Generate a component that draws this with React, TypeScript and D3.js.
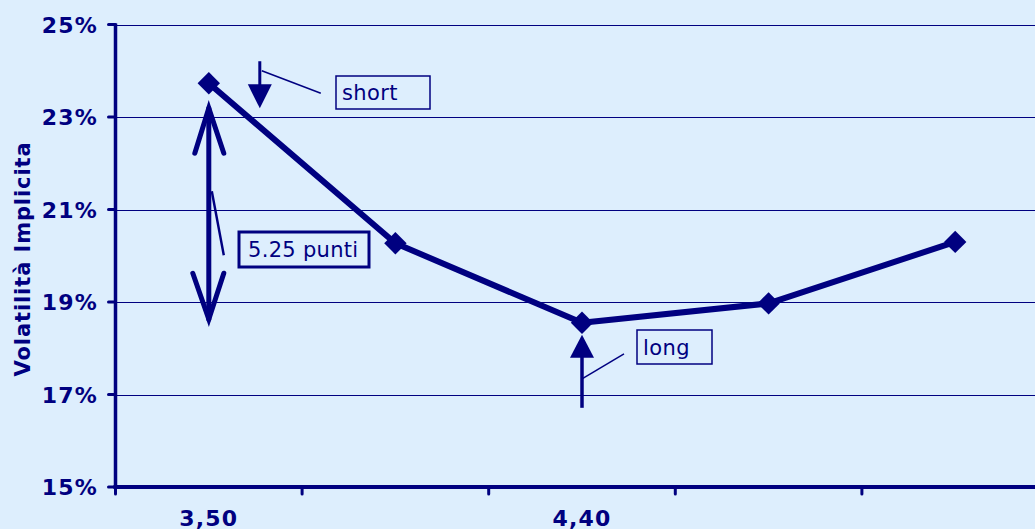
import React from 'react';
import * as d3 from 'd3';

// strike prices (only some are labelled on the axis)
const categories = ['3,50', '3,95', '4,40', '4,85', '5,30'];
const shownLabels = ['3,50', '', '4,40', '', ''];
// implied volatility, in %
const volatility = [23.73, 20.27, 18.55, 18.97, 20.3];
const yTicks = [15, 17, 19, 21, 23, 25];

const W = 1035;
const H = 529;
const NAVY = '#000080';
const BG = '#ddeefd';
const FONT = 'Verdana, "DejaVu Sans", sans-serif';

export default function App() {
  const left = 115.5;
  const top = 24.5;
  const bottom = 487;
  const x = d3.scaleBand<string>().domain(categories).range([left, left + 5 * 186.6]);
  const y = d3.scaleLinear().domain([15, 25]).range([bottom, top]);
  const cx = (i: number) => (x(categories[i]) as number) + x.bandwidth() / 2;

  const line = d3.line<number>()
    .x((d, i) => cx(i))
    .y(d => y(d));

  const diamond = d3.symbol().type(d3.symbolDiamond2 || d3.symbolSquare).size(320)();

  // annotation anchors from the data
  const p0x = cx(0), p0y = y(volatility[0]);
  const p2x = cx(2), p2y = y(volatility[2]);
  const shortX = p0x + 51;

  return (
    <svg width={W} height={H} style={{ position: 'absolute', left: 0, top: 0, background: BG }}>
      <rect x={0} y={0} width={W} height={H} fill={BG} />
      {/* gridlines */}
      {yTicks.slice(1).map(t => (
        <line key={t} x1={left} x2={W} y1={Math.round(y(t)) + 0.5} y2={Math.round(y(t)) + 0.5}
          stroke={NAVY} strokeWidth={1} />
      ))}
      {/* y axis */}
      <line x1={left} x2={left} y1={top - 1} y2={bottom + 2} stroke={NAVY} strokeWidth={3.5} />
      {yTicks.map(t => (
        <g key={t}>
          <line x1={left - 7} x2={left} y1={y(t)} y2={y(t)} stroke={NAVY} strokeWidth={3} strokeLinecap="round" />
          <text x={98} y={y(t) + 8} textAnchor="end" fill={NAVY} fontFamily={FONT}
            fontWeight="bold" fontSize={22} letterSpacing={1.2}>{t}%</text>
        </g>
      ))}
      {/* x axis */}
      <line x1={left - 2} x2={W} y1={bottom} y2={bottom} stroke={NAVY} strokeWidth={4} />
      {categories.map((c, i) => (
        <line key={c} x1={x(c) as number} x2={x(c) as number} y1={bottom} y2={bottom + 7}
          stroke={NAVY} strokeWidth={3} strokeLinecap="round" />
      ))}
      {categories.map((c, i) => (
        <text key={'l' + c} x={cx(i)} y={525.5} textAnchor="middle" fill={NAVY} fontFamily={FONT}
          fontWeight="bold" fontSize={22} letterSpacing={1.2}>{shownLabels[i]}</text>
      ))}
      {/* axis title */}
      <text transform={`translate(30,259) rotate(-90)`} textAnchor="middle" fill={NAVY}
        fontFamily={FONT} fontWeight="bold" fontSize={21} letterSpacing={0.9}>Volatilità Implicita</text>

      {/* series */}
      <path d={line(volatility) || ''} fill="none" stroke={NAVY} strokeWidth={6} strokeLinejoin="round" />
      {volatility.map((v, i) => (
        <path key={i} d={diamond || ''} transform={`translate(${cx(i)},${y(v)})`} fill={NAVY} />
      ))}

      {/* short arrow + label */}
      <line x1={shortX} x2={shortX} y1={p0y - 22} y2={p0y + 4} stroke={NAVY} strokeWidth={3} />
      <path d={`M${shortX - 12},${p0y + 1} L${shortX + 12},${p0y + 1} L${shortX},${p0y + 25} Z`} fill={NAVY} />
      <line x1={shortX + 2} x2={shortX + 61} y1={p0y - 12.5} y2={p0y + 10} stroke={NAVY} strokeWidth={1.5} />
      <rect x={336} y={76} width={94} height={33} fill={BG} stroke={NAVY} strokeWidth={1.5} />
      <text x={342} y={100} fill={NAVY} fontFamily={FONT} fontSize={21} letterSpacing={0.4}>short</text>

      {/* double arrow for the spread */}
      <g stroke={NAVY} strokeWidth={5} strokeLinecap="round" fill="none">
        <line x1={p0x} x2={p0x} y1={p0y + 25} y2={p0y + 236} />
        <path d={`M${p0x - 14},${p0y + 70} L${p0x},${p0y + 25} L${p0x + 15},${p0y + 70}`} />
        <path d={`M${p0x - 16},${p0y + 190} L${p0x},${p0y + 236} L${p0x + 15},${p0y + 190}`} />
      </g>
      <line x1={p0x + 3} x2={p0x + 15} y1={p0y + 108} y2={p0y + 172} stroke={NAVY} strokeWidth={2.5} />
      <rect x={239} y={232} width={130} height={35} fill={BG} stroke={NAVY} strokeWidth={3} />
      <text x={248} y={257} fill={NAVY} fontFamily={FONT} fontSize={21} letterSpacing={0.3}>5.25 punti</text>

      {/* long arrow + label */}
      <line x1={p2x} x2={p2x} y1={p2y + 85} y2={p2y + 30} stroke={NAVY} strokeWidth={3.5} />
      <path d={`M${p2x - 12},${p2y + 35} L${p2x + 12},${p2y + 35} L${p2x},${p2y + 12} Z`} fill={NAVY} />
      <line x1={p2x} x2={p2x + 42} y1={p2y + 56} y2={p2y + 31} stroke={NAVY} strokeWidth={1.5} />
      <rect x={637} y={330} width={75} height={34} fill={BG} stroke={NAVY} strokeWidth={1.5} />
      <text x={643} y={355} fill={NAVY} fontFamily={FONT} fontSize={21} letterSpacing={0.4}>long</text>
    </svg>
  );
}
